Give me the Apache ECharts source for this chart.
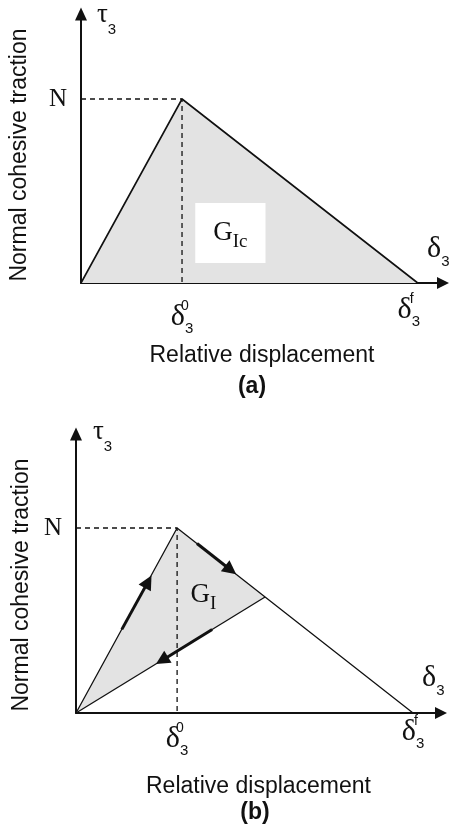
<!DOCTYPE html>
<html>
<head>
<meta charset="utf-8">
<script src="https://cdn.jsdelivr.net/npm/echarts@6/dist/echarts.min.js"></script>
<style>
  html, body { margin: 0; padding: 0; background: #fff; }
  #chart { width: 451px; height: 833px; }
</style>
</head>
<body>
<div id="chart"></div>
<script>
// Bilinear cohesive law in mode I.
// (a) full traction–separation law, (b) partial damage followed by unloading.
// Displacements are normalised by δ3^f, traction by N.

const lawPoints = [[0, 0], [0.3, 1.0], [1.0, 0]];          // loading / softening
const onsetGuide = [[0, 1.0], [0.3, 1.0], [0.3, 0]];        // dashed guides to N and δ3^0
const unloadPath = [[0.561, 0.627], [0, 0]];                // secant unloading in (b)
const dissipatedB = [[0, 0], [0.3, 1.0], [0.561, 0.627]];   // G_I region in (b)
const loadArrows = [                                         // path direction markers in (b)
  [[0.136, 0.452], [0.214, 0.710]],
  [[0.359, 0.916], [0.459, 0.773]],
  [[0.404, 0.451], [0.255, 0.284]]
];
const xTickValues = [0.3, 1.0];
const xTickSup = ['0', 'f'];
const yTickValues = [1.0];
const yTickText = ['N'];

const SERIF = '"Liberation Serif", "DejaVu Serif", serif';
const SANS = '"Liberation Sans", Arial, sans-serif';
const INK = '#111';
const FILL = '#e3e3e3';

// tick labels: δ with stacked superscript / subscript
const tickRich = {
  gap: { fontSize: 4, lineHeight: 7 },
  d:   { fontFamily: SERIF, fontSize: 30, lineHeight: 37, color: INK },
  sp:  { fontFamily: SANS, fontSize: 14, verticalAlign: 'top', width: 0, color: INK },
  sb:  { fontFamily: SANS, fontSize: 15, verticalAlign: 'bottom', color: INK },
  pad: { fontSize: 10, width: 18 },
  n:   { fontFamily: SERIF, fontSize: 25, lineHeight: 30, color: INK }
};
// axis names δ3 and τ3
const nameRich = {
  d:  { fontFamily: SERIF, fontSize: 30, lineHeight: 40, color: INK },
  ds: { fontFamily: SANS, fontSize: 15, verticalAlign: 'bottom', color: INK },
  t:  { fontFamily: SERIF, fontSize: 27, lineHeight: 45, color: INK },
  ts: { fontFamily: SANS, fontSize: 15, verticalAlign: 'bottom', color: INK }
};

function near(list, v) {
  return list.findIndex(t => Math.abs(t - v) < 1e-6);
}

function xLabel(shiftLast) {
  return function (v) {
    const i = near(xTickValues, v);
    if (i < 0) return '';
    const body = '{d|δ}{sp|' + xTickSup[i] + '}{sb|3}';
    if (i === xTickValues.length - 1) {
      return body + (shiftLast ? '{pad| }' : '');
    }
    return '{gap| }\n' + body;
  };
}
function yLabel(v) {
  const i = near(yTickValues, v);
  return i < 0 ? '' : '{n|' + yTickText[i] + '}';
}

function axisPair(idx, p) {
  const x = {
    type: 'value', gridIndex: idx, position: 'bottom', min: 0, max: p.xMax, interval: 0.1,
    splitLine: { show: false }, axisTick: { show: false },
    axisLine: { show: true, onZero: false, symbol: ['none', 'triangle'], symbolSize: [12, 12],
      lineStyle: { color: INK, width: 2 } },
    axisLabel: { formatter: xLabel(p.shiftLast), rich: tickRich, margin: p.xMargin },
    name: '{d|δ}{ds|3}',
    nameLocation: 'end', nameGap: p.xNameGap,
    nameTextStyle: { rich: nameRich, align: 'left', verticalAlign: 'bottom', padding: [0, 0, p.xNamePad, 0] }
  };
  const xTitle = {
    type: 'value', gridIndex: idx, position: 'bottom', offset: 0, min: 0, max: p.xMax, show: true,
    axisLine: { show: false, onZero: false }, axisTick: { show: false }, axisLabel: { show: false },
    splitLine: { show: false },
    name: 'Relative displacement', nameLocation: 'middle', nameGap: p.titleGap,
    nameTextStyle: { fontFamily: SANS, fontSize: 23, color: INK }
  };
  const y = {
    type: 'value', gridIndex: idx, position: 'left', min: 0, max: p.yMax, interval: 0.5,
    splitLine: { show: false }, axisTick: { show: false },
    axisLine: { show: true, onZero: false, symbol: ['none', 'triangle'], symbolSize: [12, 13],
      lineStyle: { color: INK, width: 2 } },
    axisLabel: { formatter: yLabel, rich: tickRich, margin: 14 },
    name: '{t|τ}{ts|3}',
    nameLocation: 'end', nameGap: p.yNameGap,
    nameTextStyle: { rich: nameRich, align: 'left', verticalAlign: 'middle', padding: [0, 0, 0, p.yNamePad] }
  };
  const yTitle = {
    type: 'value', gridIndex: idx, position: 'left', offset: 0, min: 0, max: p.yMax, show: true,
    axisLine: { show: false, onZero: false }, axisTick: { show: false }, axisLabel: { show: false },
    splitLine: { show: false },
    name: 'Normal cohesive traction', nameLocation: 'middle', nameRotate: 90, nameGap: p.yTitleGap,
    nameTextStyle: { fontFamily: SANS, fontSize: 23, color: INK, padding: [0, p.yTitleShift, 0, 0] }
  };
  return { x: [x, xTitle], y: [y, yTitle] };
}

const A = axisPair(0, { xMax: 1.075, yMax: 1.462, shiftLast: true, xMargin: 9,
  xNameGap: -16, xNamePad: 14, yNameGap: -1, yNamePad: 16,
  titleGap: 61, yTitleGap: 50, yTitleShift: 13 });
const B = axisPair(1, { xMax: 1.083, yMax: 1.508, shiftLast: false, xMargin: 1,
  xNameGap: -19, xNamePad: 15, yNameGap: 2, yNamePad: 17,
  titleGap: 62, yTitleGap: 43, yTitleShift: 23 });

const gLabelRich = {
  g: { fontFamily: SERIF, fontSize: 27, lineHeight: 38, color: INK },
  s: { fontFamily: SERIF, fontSize: 19, verticalAlign: 'bottom', color: INK }
};

const option = {
  animation: false,
  backgroundColor: '#fff',
  grid: [
    { left: 81, top: 14, width: 362, height: 269, outerBoundsMode: 'none' },
    { left: 76, top: 434, width: 365, height: 279, outerBoundsMode: 'none' }
  ],
  xAxis: [A.x[0], B.x[0], A.x[1], B.x[1]],
  yAxis: [A.y[0], B.y[0], A.y[1], B.y[1]],
  series: [
    // (a) law with the full dissipated energy shaded
    { type: 'line', xAxisIndex: 0, yAxisIndex: 0, data: lawPoints, symbol: 'none', z: 3,
      lineStyle: { color: INK, width: 1.6 }, areaStyle: { color: FILL, opacity: 1, origin: 'start' } },
    { type: 'line', xAxisIndex: 0, yAxisIndex: 0, data: onsetGuide, symbol: 'none', z: 4,
      lineStyle: { color: INK, width: 1.3, type: [5, 4] } },
    { type: 'scatter', xAxisIndex: 0, yAxisIndex: 0, data: [[0.4436, 0.272]], symbolSize: 0, z: 5,
      itemStyle: { opacity: 1 },
      label: { show: true, position: 'inside', formatter: '{g|G}{s|Ic}', rich: gLabelRich, opacity: 1,
        backgroundColor: '#fff', padding: [11, 18, 11, 18] } },

    // (b) partial damage and unloading
    { type: 'custom', xAxisIndex: 1, yAxisIndex: 1, data: dissipatedB, z: 1,
      renderItem: function (params, api) {
        if (params.dataIndex !== 0) return null;
        return { type: 'polygon', shape: { points: dissipatedB.map(p => api.coord(p)) },
          style: { fill: FILL } };
      } },
    { type: 'line', xAxisIndex: 1, yAxisIndex: 1, data: lawPoints, symbol: 'none', z: 3,
      lineStyle: { color: INK, width: 1.3 } },
    { type: 'line', xAxisIndex: 1, yAxisIndex: 1, data: unloadPath, symbol: 'none', z: 3,
      lineStyle: { color: INK, width: 1.3 } },
    { type: 'line', xAxisIndex: 1, yAxisIndex: 1, data: onsetGuide, symbol: 'none', z: 4,
      lineStyle: { color: INK, width: 1.3, type: [5, 4] } },
    { type: 'lines', coordinateSystem: 'cartesian2d', xAxisIndex: 1, yAxisIndex: 1, z: 5,
      symbol: ['none', 'triangle'], symbolSize: 14,
      lineStyle: { color: INK, width: 3, opacity: 1 },
      data: loadArrows.map(a => ({ coords: a })) },
    { type: 'scatter', xAxisIndex: 1, yAxisIndex: 1, data: [[0.378, 0.638]], symbolSize: 0, z: 5,
      itemStyle: { opacity: 1 },
      label: { show: true, position: 'inside', formatter: '{g|G}{s|I}', rich: gLabelRich, opacity: 1 } }
  ],
  graphic: [
    { type: 'text', x: 252, y: 387, style: { text: '(a)', align: 'center', verticalAlign: 'middle',
      font: 'bold 23px "Liberation Sans", Arial, sans-serif', fill: INK } },
    { type: 'text', x: 255, y: 813, style: { text: '(b)', align: 'center', verticalAlign: 'middle',
      font: 'bold 23px "Liberation Sans", Arial, sans-serif', fill: INK } }
  ]
};

const chart = echarts.init(document.getElementById('chart'), null, { renderer: 'canvas' });
chart.setOption(option);
</script>
</body>
</html>
